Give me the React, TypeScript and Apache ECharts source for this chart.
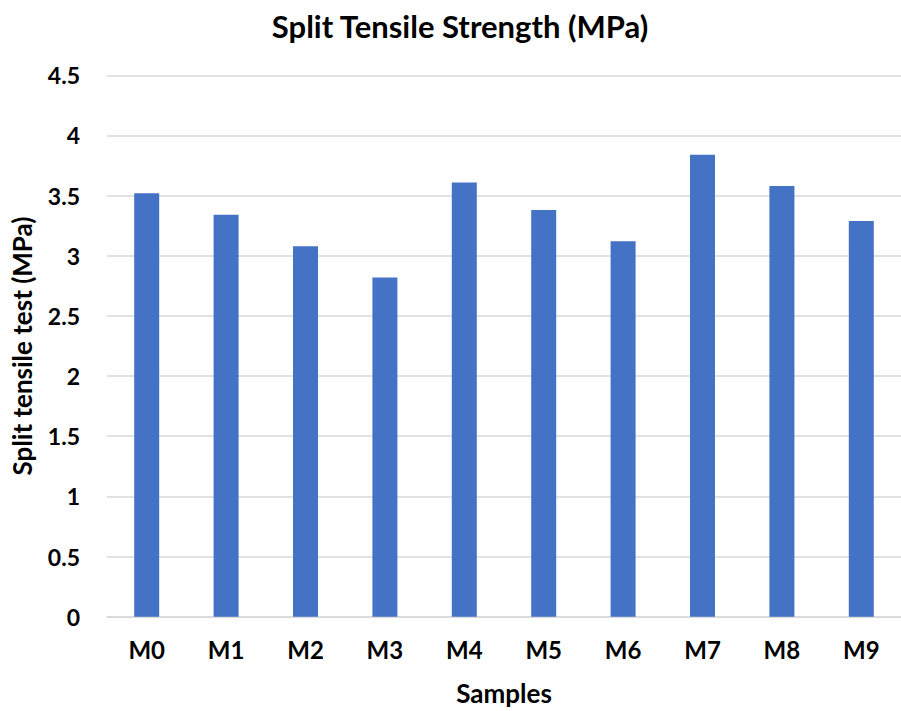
import React, { useEffect, useRef } from "react";
import * as echarts from "echarts";

// Split tensile strength per mix (MPa)
const samples = ["M0", "M1", "M2", "M3", "M4", "M5", "M6", "M7", "M8", "M9"];
const strength = [3.52, 3.34, 3.08, 2.82, 3.61, 3.38, 3.12, 3.84, 3.58, 3.29];

const FONT = "Lato, 'Noto Sans', sans-serif";

export default function App() {
  const ref = useRef<HTMLDivElement>(null);

  useEffect(() => {
    if (!ref.current) return;
    const chart = echarts.init(ref.current, null, { renderer: "svg" });
    chart.setOption({
      animation: false,
      backgroundColor: "#ffffff",
      title: {
        text: "Split Tensile Strength (MPa)",
        left: 455,
        top: 5,
        textAlign: "center",
        textStyle: { fontFamily: FONT, fontWeight: "bold", fontSize: 31, color: "#000" },
      },
      grid: { left: 107, top: 75.3, width: 804, height: 541.4, containLabel: false },
      xAxis: {
        type: "category",
        data: samples,
        name: "Samples",
        nameLocation: "middle",
        nameGap: 63,
        nameTextStyle: { fontFamily: FONT, fontWeight: "bold", fontSize: 26, color: "#000", verticalAlign: "top" },
        axisLine: { show: true, lineStyle: { color: "#d9d9d9", width: 1.5 } },
        axisTick: { show: false },
        axisLabel: { fontFamily: FONT, fontWeight: "bold", fontSize: 24, color: "#000", margin: 21 },
      },
      yAxis: {
        type: "value",
        min: 0,
        max: 4.5,
        interval: 0.5,
        name: "Split tensile test (MPa)",
        nameLocation: "middle",
        nameGap: 72,
        nameTextStyle: { fontFamily: FONT, fontWeight: "bold", fontSize: 26, color: "#000" },
        axisLine: { show: false },
        axisTick: { show: false },
        splitLine: { lineStyle: { color: "#d9d9d9", width: 1.5 } },
        axisLabel: { fontFamily: FONT, fontWeight: "bold", fontSize: 23, color: "#000", margin: 27 },
      },
      series: [
        {
          type: "bar",
          data: strength,
          barWidth: 25,
          itemStyle: { color: "#4472c4" },
        },
      ],
    });
    return () => chart.dispose();
  }, []);

  return (
    <div
      ref={ref}
      style={{ position: "fixed", left: 0, top: 0, width: 901, height: 711, background: "#fff" }}
    />
  );
}
